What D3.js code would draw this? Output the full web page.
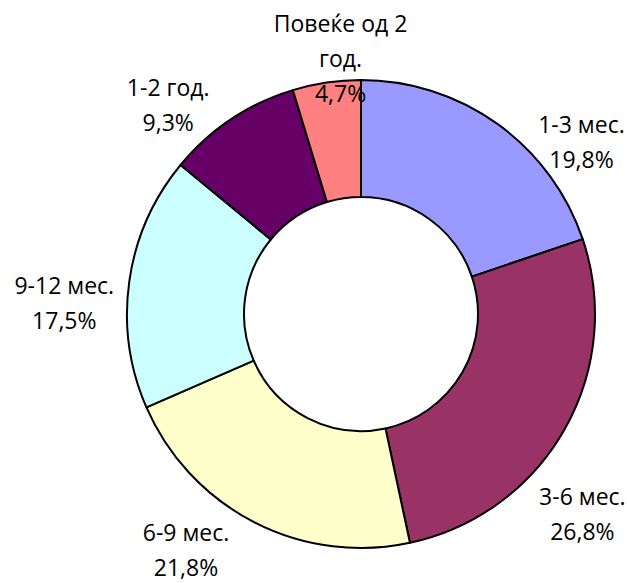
<!DOCTYPE html>
<html>
<head>
<meta charset="utf-8">
<script src="https://cdn.jsdelivr.net/npm/d3@7"></script>
<style>
  body { margin: 0; background: #fff; }
  text { font-family: "Open Sans", sans-serif; fill: #000; }
</style>
</head>
<body>
<div id="graph"></div>
<script>
var w = 627
var h = 583

// data
var categories = ["1-3 мес.", "3-6 мес.", "6-9 мес.", "9-12 мес.", "1-2 год.", "Повеќе од 2 год."]
var values = [19.8, 26.8, 21.8, 17.5, 9.3, 4.7]
var colors = ["#9999FF", "#993366", "#FFFFCC", "#CCFFFF", "#660066", "#FF8080"]
// label text lines (category may wrap)
var labelLines = [["1-3 мес."], ["3-6 мес."], ["6-9 мес."], ["9-12 мес."], ["1-2 год."], ["Повеќе од 2", "год."]]

// layout nudges for labels, relative to the outer edge at the slice middle
var labelNudge = [[84, 19], [18, 85], [-68, 28], [-65, 22], [-63, -14], [14, -24]]

var cx = 361, cy = 314
var outerR = 234, innerR = 117
var lineH = 35

var svg = d3.select("#graph").append("svg")
    .attr("width", w)
    .attr("height", h)

var g = svg.append("g")
    .attr("transform", "translate(" + cx + "," + cy + ")")

var pie = d3.pie().sort(null).value(function (d) { return d })
var arcs = pie(values)

var arc = d3.arc().innerRadius(innerR).outerRadius(outerR)

g.selectAll("path.slice")
    .data(arcs)
    .enter().append("path")
    .attr("class", "slice")
    .attr("d", arc)
    .attr("fill", function (d, i) { return colors[i] })
    .attr("stroke", "#000")
    .attr("stroke-width", 2)
    .attr("stroke-linejoin", "round")

// labels
var fmt = function (v) { return v.toFixed(1).replace(".", ",") + "%" }

arcs.forEach(function (d, i) {
    var mid = (d.startAngle + d.endAngle) / 2
    var ax = outerR * Math.sin(mid) + labelNudge[i][0]
    var ay = -outerR * Math.cos(mid) + labelNudge[i][1]
    var lines = labelLines[i].concat([fmt(values[i])])
    var top = ay - (lines.length - 1) * lineH / 2
    var t = g.append("text")
        .attr("text-anchor", "middle")
        .attr("font-size", 23)
    lines.forEach(function (s, k) {
        t.append("tspan")
            .attr("x", ax)
            .attr("y", top + k * lineH)
            .attr("dy", "0.35em")
            .text(s)
    })
})
</script>
</body>
</html>
